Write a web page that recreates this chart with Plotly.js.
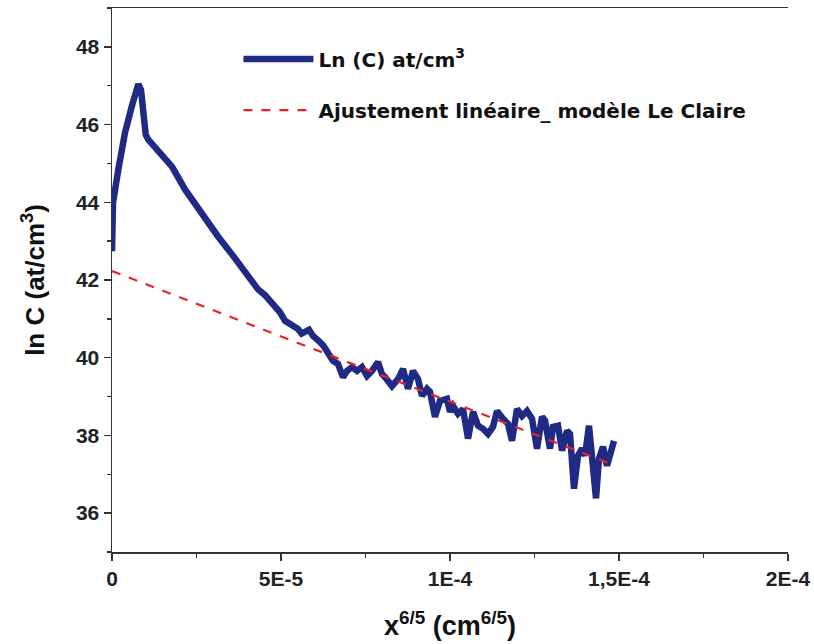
<!DOCTYPE html>
<html>
<head>
<meta charset="utf-8">
<script src="https://cdn.plot.ly/plotly-3.0.1.min.js"></script>
<style>html,body{margin:0;padding:0;background:#fff;}#chart{width:814px;height:644px;}</style>
</head>
<body>
<div id="chart"></div>
<script>
// Measured series: ln C versus x^(6/5)
var lnX = [0, 0.18e-6, 0.30e-6, 1.86e-6, 3.85e-6, 5.83e-6, 7.31e-6, 7.78e-6, 8.58e-6, 9.26e-6, 9.97e-6,
  10.74e-6, 12.72e-6, 17.75e-6, 21.60e-6, 27.51e-6, 31.36e-6, 35.50e-6, 39.35e-6, 43.20e-6, 45.27e-6,
  47.34e-6, 49.70e-6, 51.20e-6, 52.66e-6, 54.00e-6, 55.03e-6, 56.10e-6, 57.10e-6, 58.30e-6, 59.47e-6, 60.50e-6, 61.54e-6, 62.60e-6, 63.62e-6, 64.50e-6, 65.39e-6, 66.86e-6,
  68.34e-6, 69.53e-6, 71.01e-6, 72.49e-6, 73.97e-6, 75.44e-6, 76.92e-6, 78.70e-6, 79.88e-6, 80.77e-6,
  82.84e-6, 84.62e-6, 86.10e-6, 87.57e-6, 89.05e-6, 90.53e-6, 91.72e-6, 93.20e-6, 94.08e-6, 95.56e-6,
  97.04e-6, 99.11e-6, 100.00e-6, 100.89e-6, 102.37e-6, 103.85e-6, 105.33e-6, 106.81e-6, 108.28e-6, 109.76e-6,
  111.24e-6, 112.72e-6, 113.91e-6, 115.68e-6, 117.16e-6, 118.34e-6, 119.82e-6, 121.30e-6, 122.78e-6, 124.26e-6,
  125.74e-6, 127.22e-6, 128.11e-6, 129.59e-6, 130.47e-6, 131.95e-6, 133.14e-6, 134.62e-6, 135.50e-6, 136.69e-6,
  137.87e-6, 139.05e-6, 139.94e-6, 141.12e-6, 142.31e-6, 143.20e-6, 144.08e-6, 145.27e-6, 146.45e-6, 147.93e-6,
  148.52e-6];
var lnC = [42.74, 43.30, 43.99, 44.84, 45.79, 46.46, 46.93, 47.04, 46.89, 46.38, 45.74,
  45.61, 45.43, 44.92, 44.33, 43.56, 43.12, 42.66, 42.20, 41.76, 41.61,
  41.43, 41.17, 40.95, 40.86, 40.78, 40.74, 40.62, 40.68, 40.72, 40.56, 40.50, 40.40, 40.30, 40.15, 40.05, 39.92, 39.84,
  39.50, 39.66, 39.76, 39.66, 39.76, 39.53, 39.66, 39.89, 39.58, 39.50,
  39.27, 39.45, 39.71, 39.20, 39.66, 39.45, 39.02, 39.20, 39.12, 38.48,
  38.89, 38.94, 38.61, 38.76, 38.56, 38.68, 37.92, 38.61, 38.25, 38.17,
  38.04, 38.22, 38.63, 38.43, 38.30, 37.86, 38.68, 38.50, 38.63, 38.43,
  37.66, 38.48, 38.38, 37.66, 38.22, 38.25, 37.61, 38.12, 38.04, 36.63,
  37.48, 37.66, 37.48, 38.25, 37.33, 36.38, 37.40, 37.71, 37.22, 37.79,
  37.86];

// Linear fit (Le Claire model)
var fitX = [0, 1.47e-4];
var fitY = [42.23, 37.29];

var xTickVals = [0, 5e-5, 1e-4, 1.5e-4, 2e-4];
var xTickText = ['0', '5E-5', '1E-4', '1,5E-4', '2E-4'];
var yTickVals = [36, 38, 40, 42, 44, 46, 48];
var yTickText = ['36', '38', '40', '42', '44', '46', '48'];

var seriesNames = ['Ln (C) at/cm<sup>3</sup>', 'Ajustement linéaire_ modèle Le Claire'];

var tickFont = {family: 'Liberation Sans Narrow, Liberation Sans, Arial', size: 21, color: '#222', weight: 'bold'};

var traces = [
  {x: lnX, y: lnC, type: 'scatter', mode: 'lines', name: seriesNames[0], legendgroup: 'a',
   line: {color: '#1f2a85', width: 6.5}},
  {x: fitX, y: fitY, type: 'scatter', mode: 'lines', name: seriesNames[1], legendgroup: 'b',
   line: {color: '#e8202a', width: 2.2, dash: 'dash'}}
];

var layout = {
  width: 814, height: 644,
  margin: {l: 112, r: 26, t: 8, b: 92},
  paper_bgcolor: '#fff', plot_bgcolor: '#fff',
  showlegend: true,
  legend: {x: 0.187, y: 0.942, xanchor: 'left', yanchor: 'top', bgcolor: 'rgba(0,0,0,0)',
    traceorder: 'grouped', tracegroupgap: 22, itemwidth: 70,
    font: {family: 'DejaVu Sans, sans-serif', size: 20, color: '#111', weight: 'bold'}},
  xaxis: {
    range: [0, 2e-4], tickmode: 'array', tickvals: xTickVals, ticktext: xTickText,
    ticks: 'outside', ticklen: 7, tickwidth: 1.5, tickcolor: '#333',
    minor: {tickmode: 'linear', tick0: 0, dtick: 2.5e-5, ticks: 'outside', ticklen: 4, tickwidth: 1.5, tickcolor: '#333', showgrid: false},
    showline: true, linecolor: '#333', linewidth: 1.5, mirror: true,
    showgrid: false, zeroline: false, tickfont: tickFont,
    title: {text: 'x<sup>6/5</sup> (cm<sup>6/5</sup>)', standoff: 27,
      font: {family: 'Liberation Sans Narrow, Liberation Sans, Arial', size: 27, color: '#111', weight: 'bold'}}
  },
  yaxis: {
    range: [35, 49], tickmode: 'array', tickvals: yTickVals, ticktext: yTickText,
    ticks: 'outside', ticklen: 7, tickwidth: 1.5, tickcolor: '#333',
    minor: {tickmode: 'linear', tick0: 35, dtick: 1, ticks: 'outside', ticklen: 4, tickwidth: 1.5, tickcolor: '#333', showgrid: false},
    showline: true, linecolor: '#333', linewidth: 1.5,
    showgrid: false, zeroline: false, tickfont: tickFont,
    title: {text: 'ln C (at/cm<sup>3</sup>)', standoff: 24,
      font: {family: 'Liberation Sans, Arial', size: 26, color: '#111', weight: 'bold'}}
  }
};

Plotly.newPlot('chart', traces, layout, {displayModeBar: false, staticPlot: true});
</script>
</body>
</html>
